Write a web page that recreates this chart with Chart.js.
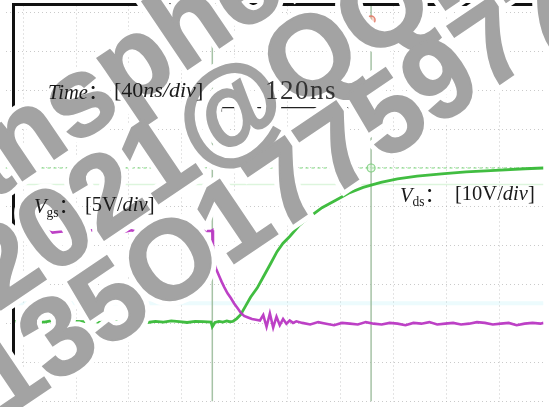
<!DOCTYPE html>
<html>
<head>
<meta charset="utf-8">
<script src="https://cdn.jsdelivr.net/npm/chart.js@4.4.1/dist/chart.umd.min.js"></script>
<style>
  html, body { margin: 0; padding: 0; background: #fff; }
  #stage { position: relative; width: 549px; height: 407px; overflow: hidden; background: #fff; }
  #plot { position: absolute; left: 0; top: 0; }
  #frame { position: absolute; left: 12px; top: 3px; width: 600px; height: 450px;
           border-top: 3px solid #111; border-left: 3px solid #111; box-sizing: border-box; }
  .lbl { position: absolute; font-family: "Liberation Serif", "Times New Roman", serif;
         font-size: 20.5px; line-height: 1; color: #1a1a1a; white-space: nowrap; z-index: 5; }
  .lbl i { font-style: italic; }
  .lbl .sub { font-size: 0.66em; vertical-align: -0.3em; }
  .lbl .cjk { font-family: "Noto Sans CJK SC", sans-serif; }
  #timeScale { font-size: 22px; }
  #span120 { font-size: 27px; letter-spacing: 1.5px; color: #333; }
  .wmLayer { position: absolute; left: 0; top: 0; transform-origin: 0 0; transform: rotate(-34deg); }
  .wmLine { position: absolute; font-family: "Liberation Sans", Arial, sans-serif; font-weight: bold;
            font-size: 112px; line-height: 1; white-space: nowrap; }
  #wmHalo .wmLine { color: #fff; -webkit-text-stroke: 12px #fff; }
  #wmFill .wmLine { color: #a3a3a3; -webkit-text-stroke: 2px #a3a3a3; }
</style>
</head>
<body>
<div id="stage">
  <canvas id="plot" width="549" height="407"></canvas>
  <div id="frame"></div>
  <div class="wmLayer" id="wmHalo"></div>
  <div class="wmLayer" id="wmFill"></div>
  <div class="lbl" style="left:48px; top:80px;"><i>Time</i><span class="cjk">：</span></div>
  <div class="lbl" id="timeScale" style="left:114px; top:78.5px;">[40<i>ns/div</i>]</div>
  <div class="lbl" id="span120" style="left:265px; top:77px;">120ns</div>
  <div class="lbl" style="left:34px; top:194px;"><i>V</i><span class="sub">gs</span><span class="cjk">：</span></div>
  <div class="lbl" style="left:85px; top:194px;">[5V/<i>div</i>]</div>
  <div class="lbl" style="left:400px; top:183px;"><i>V</i><span class="sub">ds</span><span class="cjk">：</span></div>
  <div class="lbl" style="left:455px; top:183px;">[10V/<i>div</i>]</div>
</div>
<script>
// Oscilloscope capture of a MOSFET turn-off: gate-source voltage (5 V/div)
// and drain-source voltage (10 V/div), 40 ns per horizontal division.
// Time is measured in ns from the screen centre.

const NS_PER_DIV = 40;
const VGS_PER_DIV = 5;
const VDS_PER_DIV = 10;

// Vgs trace (channel 1)
const vgsTimeNs = [
  -208, -202, -196, -190, -184, -178, -172, -166, -160, -154, -148, -142, -136, -130,
  -124, -118, -112, -106, -100, -94, -88, -82, -76, -70, -64, -58,
  -57, -56.5, -54, -52, -50, -48, -45.5, -43, -40.5, -38, -35.5, -33, -30, -27,
  -24, -21, -18.5, -16, -13.5, -11, -8.5, -6, -3.5, -1, 1.5, 4, 6.5,
  11, 17, 23, 29, 35, 41, 47, 53, 59, 65, 71, 77, 83, 89, 95, 101, 107, 113,
  119, 125, 131, 137, 143, 149, 155, 161, 167, 173, 179, 185, 191, 193.3
];
const vgsVolts = [
  11.8, 11.9, 11.7, 11.8, 12.0, 11.7, 11.8, 11.9, 11.6, 11.8, 12.0, 11.8, 11.7, 11.9,
  11.8, 12.0, 11.7, 11.8, 11.9, 11.7, 11.8, 12.0, 11.8, 11.7, 11.9, 11.9,
  12.0, 8.2, 7.0, 6.2, 5.4, 4.7, 3.9, 3.3, 2.6, 2.0, 1.4, 1.0, 0.8, 0.6,
  0.5, 0.4, 1.1, -0.4, 1.3, -0.5, 0.9, -0.2, 0.6, 0.0, 0.4, 0.1, 0.3,
  0.1, -0.1, 0.2, 0.0, -0.2, 0.1, 0.0, -0.1, 0.2, 0.0, -0.1, 0.1, 0.0, -0.2,
  0.1, 0.0, 0.2, -0.1, 0.0, 0.1, -0.1, 0.0, 0.2, 0.1, -0.1, 0.0, 0.1, -0.2,
  0.0, 0.1, 0.0, 0.1
];

// Vds trace (channel 2)
const vdsTimeNs = [
  -208, -202, -196, -190, -184, -178, -172, -166, -160, -154, -148, -142, -136, -130,
  -124, -118, -112, -106, -100, -94, -88, -82, -76, -70, -64, -58,
  -57, -55, -52, -49, -46, -44, -41.5, -38.5, -35.6, -31.9, -28.1, -23, -18.5,
  -13.3, -8.1, -3.7, 1.5, 8.9, 16.3, 25.9, 36.3, 45.9, 57, 70.4, 83, 97.8,
  116.3, 134.8, 157, 179.3, 193.3
];
const vdsVolts = [
  0.5, 0.7, 0.3, 0.6, 0.4, 0.8, 0.5, 0.2, 0.6, 0.5, 0.7, 0.3, 0.5, 0.6,
  0.4, 0.8, 0.5, 0.3, 0.6, 0.4, 0.7, 0.5, 0.3, 0.6, 0.5, 0.4,
  -0.8, 0.3, 0.6, 0.4, 0.7, 0.5, 0.6, 1.3, 2.3, 4.5, 6.8, 9.2, 12.0,
  15.2, 18.5, 20.6, 22.4, 25.3, 27.4, 29.8, 31.7, 33.5, 35.0, 36.3, 37.2, 37.9,
  38.5, 39.0, 39.4, 39.8, 40.0
];

// Time cursors (ns) and the marker levels (divisions from centre)
const cursorTimesNs = [-57, 63];
const levelCursorDiv = 1;
const levelMarkerDiv = 0.575;
const refLevelDiv = -2.475;
const arrowLevelDiv = 2.55;

// Watermark overlay lines
const watermarkLines = ['Transphere', '2021@QQ.com', '135O1775977'];
const watermarkLeft = [-258, -176, -234];
const watermarkTop = [68, 163, 255];

// Screen extents: 1.35 px per ns, 40 px per division, centre at (288, 207)
const X_MIN = -213.3, X_MAX = 193.3;
const DIV_MIN = -5, DIV_MAX = 5.175;
const GND_DIV = -3;

const pts = (xs, ys) => xs.map((x, i) => ({ x: x, y: ys[i] }));

const cursorLines = cursorTimesNs.map(t => ({
  data: [{ x: t, y: DIV_MIN }, { x: t, y: DIV_MAX }],
  borderColor: 'rgba(150,185,150,0.85)', borderWidth: 1.5, pointRadius: 0, yAxisID: 'y'
}));

const arrowInset = 5.5;
const datasets = [
  { // 120 ns span arrow between the cursors
    data: [{ x: cursorTimesNs[0] + arrowInset, y: arrowLevelDiv }, { x: cursorTimesNs[1] - arrowInset, y: arrowLevelDiv }],
    borderColor: '#222', borderWidth: 1.2, backgroundColor: '#222',
    pointStyle: 'triangle', pointRadius: 5, pointRotation: [-90, 90], pointBorderWidth: 0,
    yAxisID: 'y'
  },
  { // cursor handles at the top of the screen
    data: [{ x: cursorTimesNs[0], y: 4.8 }, { x: cursorTimesNs[1], y: 4.8 }],
    showLine: false, pointRadius: 4, pointBorderWidth: 1.5,
    pointBorderColor: 'rgba(225,110,90,0.8)', pointBackgroundColor: 'rgba(240,170,150,0.5)', yAxisID: 'y'
  },
  { // level cursor handles
    data: [{ x: cursorTimesNs[0], y: levelMarkerDiv }, { x: cursorTimesNs[1], y: levelCursorDiv }],
    showLine: false, pointRadius: 4, pointBorderWidth: 1.2,
    pointBorderColor: 'rgba(110,200,110,0.8)', pointBackgroundColor: 'rgba(200,240,200,0.4)', yAxisID: 'y'
  },
  {
    label: 'Vgs', data: pts(vgsTimeNs, vgsVolts), yAxisID: 'yg',
    borderColor: 'rgba(185,55,195,0.95)', borderWidth: 2.6, pointRadius: 0, tension: 0
  },
  {
    label: 'Vds', data: pts(vdsTimeNs, vdsVolts), yAxisID: 'yd',
    borderColor: 'rgba(55,185,55,0.95)', borderWidth: 2.8, pointRadius: 0, tension: 0
  },
  ...cursorLines,
  { // level cursor
    data: [{ x: X_MIN, y: levelCursorDiv }, { x: X_MAX, y: levelCursorDiv }],
    borderColor: 'rgba(110,215,110,0.75)', borderWidth: 1.2, borderDash: [3, 3], pointRadius: 0, yAxisID: 'y'
  },
  {
    data: [{ x: X_MIN, y: levelMarkerDiv }, { x: X_MAX, y: levelMarkerDiv }],
    borderColor: 'rgba(170,230,170,0.4)', borderWidth: 1.5, pointRadius: 0, yAxisID: 'y'
  },
  {
    data: [{ x: X_MIN, y: refLevelDiv }, { x: X_MAX, y: refLevelDiv }],
    borderColor: 'rgba(170,235,245,0.22)', borderWidth: 4, pointRadius: 0, yAxisID: 'y'
  }
];

const gridStyle = { color: 'rgba(150,150,150,0.5)', lineWidth: 1, drawTicks: false };

new Chart(document.getElementById('plot'), {
  type: 'line',
  data: { datasets: datasets },
  options: {
    responsive: false,
    animation: false,
    events: [],
    plugins: { legend: { display: false }, tooltip: { enabled: false } },
    scales: {
      x: {
        type: 'linear', min: X_MIN, max: X_MAX,
        ticks: { display: false, stepSize: NS_PER_DIV, includeBounds: false },
        grid: gridStyle,
        border: { display: false, dash: [1, 3] }
      },
      y: {
        type: 'linear', min: DIV_MIN, max: DIV_MAX,
        ticks: { display: false, stepSize: 1, includeBounds: false },
        grid: gridStyle,
        border: { display: false, dash: [1, 3] }
      },
      yg: {
        type: 'linear', display: false,
        min: (DIV_MIN - GND_DIV) * VGS_PER_DIV, max: (DIV_MAX - GND_DIV) * VGS_PER_DIV
      },
      yd: {
        type: 'linear', display: false,
        min: (DIV_MIN - GND_DIV) * VDS_PER_DIV, max: (DIV_MAX - GND_DIV) * VDS_PER_DIV
      }
    }
  }
});

// Watermark: white halo layer underneath, grey letters on top
['wmHalo', 'wmFill'].forEach(id => {
  const layer = document.getElementById(id);
  watermarkLines.forEach((txt, i) => {
    const d = document.createElement('div');
    d.className = 'wmLine';
    d.style.left = watermarkLeft[i] + 'px';
    d.style.top = watermarkTop[i] + 'px';
    d.textContent = txt;
    layer.appendChild(d);
  });
});
</script>
</body>
</html>
